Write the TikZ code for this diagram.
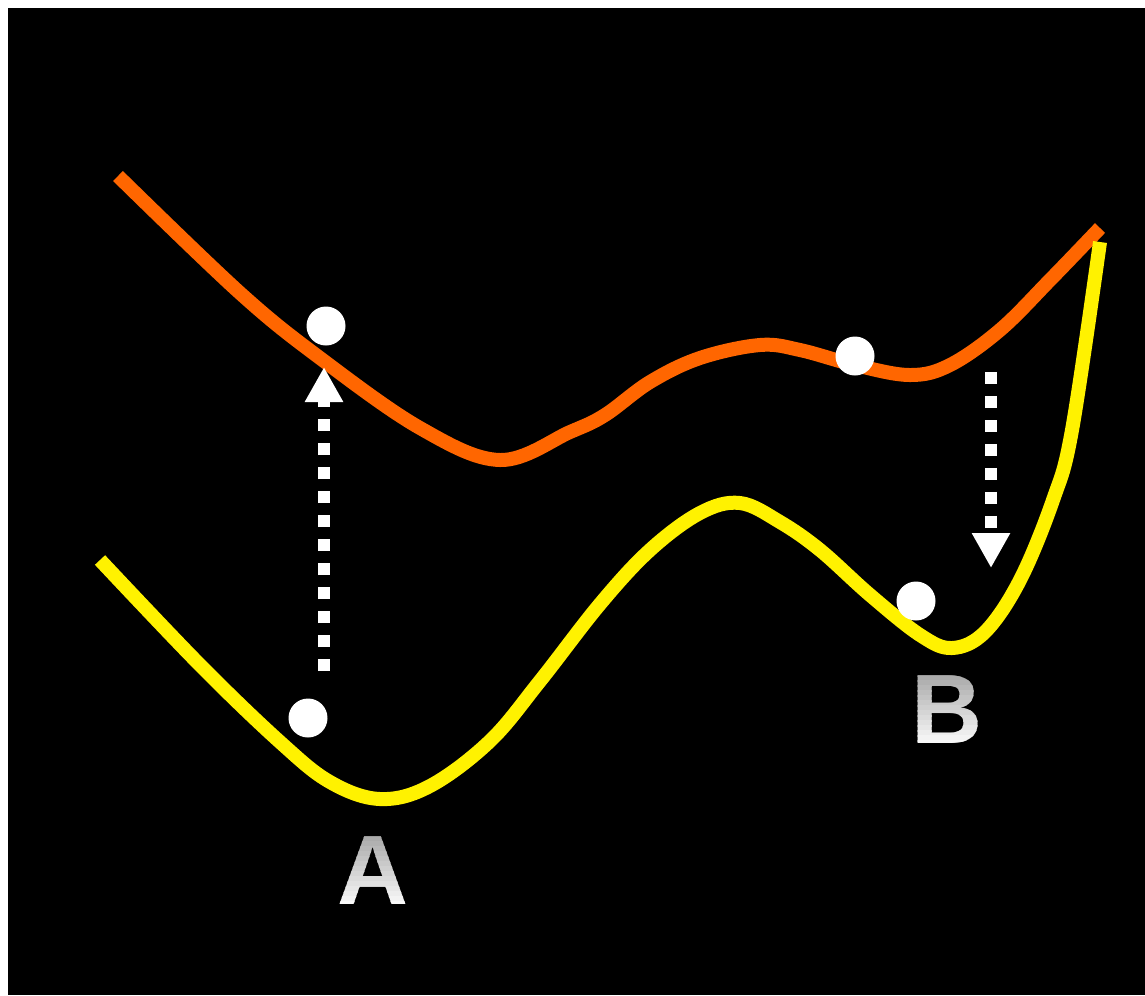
\documentclass[tikz,border=0pt]{standalone}
\usepackage{fontspec}
\setsansfont{Liberation Sans}
\usetikzlibrary{arrows.meta}
\definecolor{orangeline}{RGB}{255,102,0}
\definecolor{labelgray}{RGB}{165,165,165}
\tikzset{
    landscape/.style={
        x=0.02cm, y=-0.02cm,
        surface/.style={line width=0.28cm, line cap=butt, line join=round},
        ground/.style={surface, draw=yellow},
        excited/.style={surface, draw=orangeline},
        state/.style={circle, fill=white, minimum size=0.78cm, inner sep=0pt},
        hop/.style={draw=white, line width=0.24cm, line cap=butt, dash pattern=on 0.24cm off 0.24cm, -{Triangle[width=0.72cm, length=0.7cm]}},
        label/.style={font=\sffamily\bfseries\fontsize{56}{60}\selectfont, inner sep=0pt}
    }
}
\begin{document}
\begin{tikzpicture}[landscape]
        \useasboundingbox (0,0) rectangle (1145,995);
        \fill[white] (0,0) rectangle (1145,995);
        \fill[black] (8,8) rectangle (1145,995);

        % Energy surfaces
        \draw[excited] plot[smooth, tension=0.6] coordinates {(118,176) (240,293) (320,358) (420,428) (500,460) (570,432) (605,415) (650,382) (700,358) (760,345) (800,350) (855,365) (910,375) (950,365) (1000,330) (1050,280) (1100,228)};
        \draw[ground] plot[smooth, tension=0.6] coordinates {(100,560) (200,665) (280,742) (330,782) (380,799) (430,786) (490,741) (540,681) (600,604) (650,550) (700,513) (740,503) (780,522) (820,550) (870,595) (920,635) (952,648) (985,632) (1020,580) (1053,500) (1072,430) (1100,242)};

        % States
        \node[state] (dotA) at (308,718) {};
        \node[state] (dotAup) at (326,326) {};
        \node[state] (dotB) at (916,601) {};
        \node[state] (dotBup) at (855,356) {};

        % Vertical hops
        \coordinate (hopAstart) at (324,671);
        \coordinate (hopAend) at (324,367);
        \coordinate (hopBstart) at (991,372);
        \coordinate (hopBend) at (991,568);
        \draw[hop] (hopAstart) -- (hopAend);
        \draw[hop] (hopBstart) -- (hopBend);

        % Labels, shaded gray to white in thin strips
        \foreach \i in {0,...,15} {
            \pgfmathsetmacro{\mix}{100*\i/15}
            \begin{scope}
                \clip (330,831+5*\i) rectangle (420,837+5*\i);
                \node[label, text=white!\mix!labelgray] (labA\i) at (373,871) {A};
            \end{scope}
            \begin{scope}
                \clip (900,670+5*\i) rectangle (995,676+5*\i);
                \node[label, text=white!\mix!labelgray] (labB\i) at (947,710) {B};
            \end{scope}
        }
    \end{tikzpicture}
\end{document}
